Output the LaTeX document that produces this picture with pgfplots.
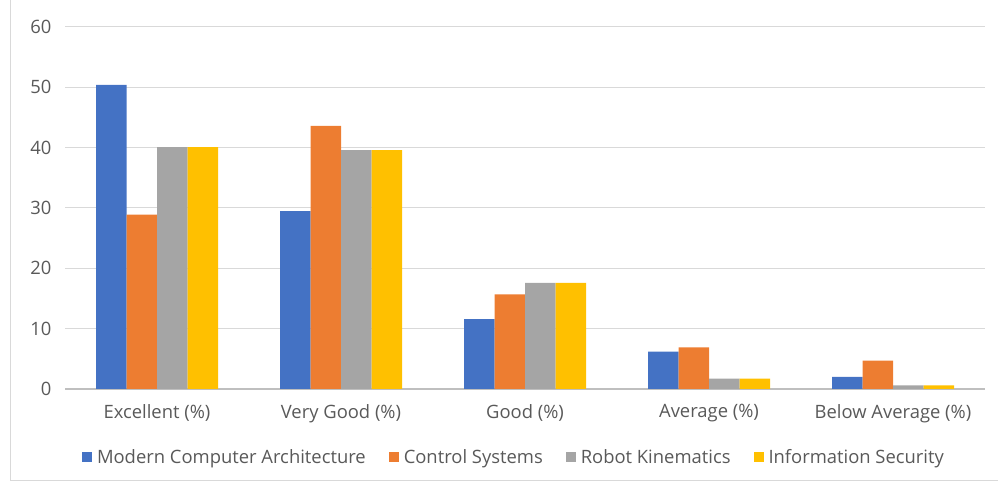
\documentclass[border=0pt]{standalone}
\usepackage{fontspec}
\setmainfont{Open Sans}
\usepackage{pgfplots}
\pgfplotsset{compat=1.18}

\definecolor{cblue}{HTML}{4472C4}
\definecolor{corange}{HTML}{ED7D31}
\definecolor{cgray}{HTML}{A5A5A5}
\definecolor{cyellow}{HTML}{FFC000}
\definecolor{txtgray}{HTML}{595959}
\definecolor{gridgray}{HTML}{D9D9D9}
\definecolor{axisgray}{HTML}{BFBFBF}

\begin{document}
\begin{tikzpicture}
% chart border (left and bottom, as in the source)
\draw[gridgray, line width=1bp] (10bp,487bp) -- (10bp,6bp) -- (998bp,6bp);
\begin{axis}[
    at={(65bp,98bp)}, anchor=south west,
    scale only axis,
    width=920bp, height=362bp,
    ybar=0pt,
    bar width=30.5bp,
    xmin=-0.5, xmax=4.5,
    ymin=0, ymax=60,
    xtick={0,1,2,3,4},
    xticklabels={Excellent (\%), Very Good (\%), Good (\%), Average (\%), Below Average (\%)},
    ytick={0,10,20,30,40,50,60},
    ymajorgrids=true,
    major grid style={gridgray, line width=1bp},
    axis x line*=bottom,
    axis y line*=left,
    x axis line style={axisgray, line width=1.5bp, -},
    y axis line style={draw=none},
    major tick length=0pt,
    tick label style={font=\fontsize{18.4bp}{22bp}\selectfont, text=txtgray},
    /pgf/number format/assume math mode=true,
    yticklabel style={xshift=-10bp},
    xticklabel style={yshift=-12bp},
    legend style={
        at={(0.488,-0.188)}, anchor=center,
        draw=none, fill=none,
        font=\fontsize{18.4bp}{22bp}\selectfont, text=txtgray,
        legend columns=4,
        /tikz/every odd column/.append style={column sep=3bp},
        /tikz/every even column/.append style={column sep=21bp},
    },
    legend image code/.code={\fill[#1] (0bp,-5bp) rectangle (10bp,5bp);},
]
\addplot[fill=cblue, draw=none] coordinates {(0,50.4) (1,29.5) (2,11.6) (3,6.2) (4,2.0)};
\addplot[fill=corange, draw=none] coordinates {(0,28.9) (1,43.6) (2,15.7) (3,6.9) (4,4.7)};
\addplot[fill=cgray, draw=none] coordinates {(0,40.1) (1,39.6) (2,17.6) (3,1.7) (4,0.6)};
\addplot[fill=cyellow, draw=none] coordinates {(0,40.1) (1,39.6) (2,17.6) (3,1.7) (4,0.6)};
\legend{Modern Computer Architecture, Control Systems, Robot Kinematics, Information Security}
\end{axis}
\pgfresetboundingbox
\path[use as bounding box] (0,0) rectangle (998bp,487bp);
\end{tikzpicture}
\end{document}
